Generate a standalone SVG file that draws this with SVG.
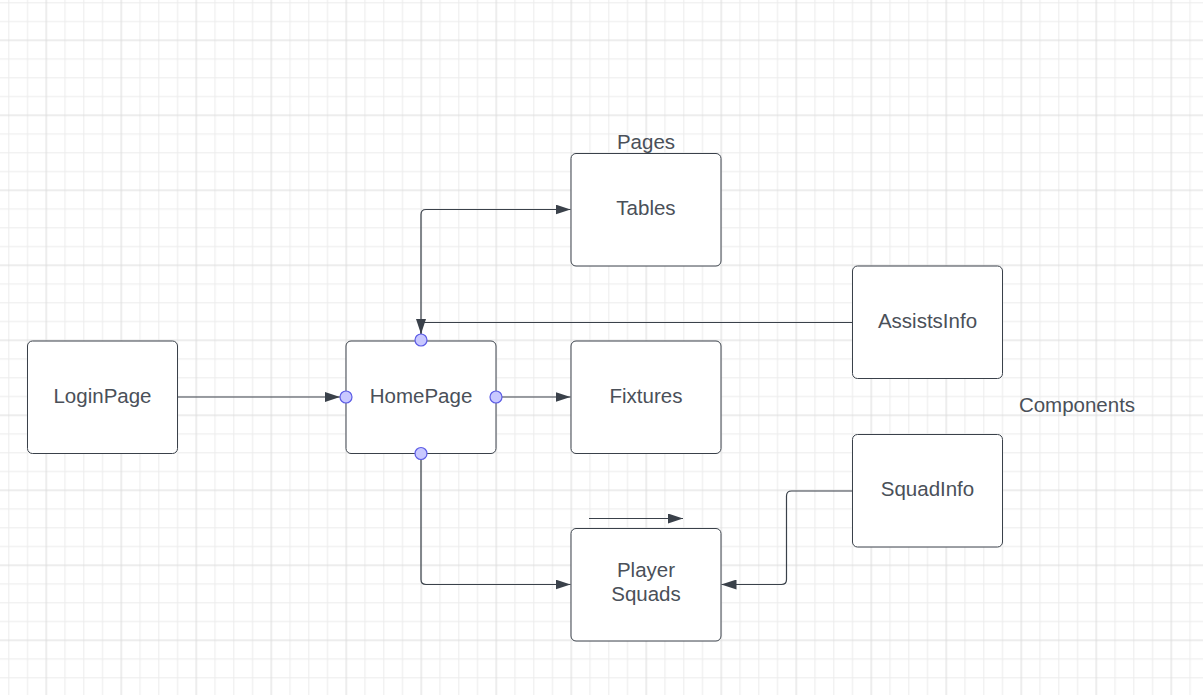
<svg xmlns="http://www.w3.org/2000/svg" width="1203" height="695" viewBox="0 0 1203 695">
<style>
.box{fill:#ffffff;stroke:#3a414a;stroke-width:1;}
.lbl{font-family:"Liberation Sans",Arial,sans-serif;font-size:20.5px;fill:#4a5059;text-anchor:middle;}
.con{fill:none;stroke:#3a414a;stroke-width:1.2;}
.dot{fill:#c8c8ff;stroke:#5c5ce6;stroke-width:1.2;}
</style>
<defs>
<pattern id="grid" patternUnits="userSpaceOnUse" x="46.3" y="40.3" width="75" height="75">
<rect x="0" y="0" width="75" height="75" fill="#ffffff"/>
<rect x="18.25" y="0" width="1" height="75" fill="#ececec"/>
<rect x="37" y="0" width="1" height="75" fill="#ececec"/>
<rect x="55.75" y="0" width="1" height="75" fill="#ececec"/>
<rect x="0" y="18.25" width="75" height="1" fill="#ececec"/>
<rect x="0" y="37" width="75" height="1" fill="#ececec"/>
<rect x="0" y="55.75" width="75" height="1" fill="#ececec"/>
<rect x="-0.5" y="0" width="1" height="75" fill="#dcdcdc"/>
<rect x="74.5" y="0" width="1" height="75" fill="#dcdcdc"/>
<rect x="0" y="-0.5" width="75" height="1" fill="#dcdcdc"/>
<rect x="0" y="74.5" width="75" height="1" fill="#dcdcdc"/>
</pattern>
<marker id="arr" viewBox="0 0 15 10" refX="15" refY="5" markerWidth="15" markerHeight="10" markerUnits="userSpaceOnUse" orient="auto">
<path d="M0,0 L15,5 L0,10 Z" fill="#3a414a"/>
</marker>
</defs>
<rect x="0" y="0" width="1203" height="695" fill="url(#grid)"/>

<g id="labels">
<text class="lbl" x="646" y="149">Pages</text>
<text class="lbl" x="1077" y="412">Components</text>
</g>

<g id="connectors">
<path class="con" d="M177.5,397 H340" marker-end="url(#arr)"/>
<path class="con" d="M502,397 H570.5" marker-end="url(#arr)"/>
<path class="con" d="M421,334 V214.5 Q421,209.5 426,209.5 H570.5" marker-end="url(#arr)"/>
<path class="con" d="M852,322.5 H421 V334" marker-end="url(#arr)"/>
<path class="con" d="M421,459 V579.5 Q421,584.5 426,584.5 H570.5" marker-end="url(#arr)"/>
<path class="con" d="M852,491 H791.5 Q786.5,491 786.5,496 V579.5 Q786.5,584.5 781.5,584.5 H721.5" marker-end="url(#arr)"/>
<path class="con" d="M589,518.5 H683" marker-end="url(#arr)"/>
</g>

<g id="LoginPage">
<rect class="box" x="27.5" y="341" width="150" height="112.5" rx="5"/>
<text class="lbl" x="102.5" y="402.5">LoginPage</text>
</g>

<g id="HomePage">
<rect class="box" x="346" y="341" width="150" height="112.5" rx="5"/>
<text class="lbl" x="421" y="402.5">HomePage</text>
<circle class="dot" cx="421" cy="340" r="6"/>
<circle class="dot" cx="346" cy="397" r="6"/>
<circle class="dot" cx="496" cy="397" r="6"/>
<circle class="dot" cx="421" cy="453.5" r="6"/>
</g>

<g id="Tables">
<rect class="box" x="571" y="153.5" width="150" height="112.5" rx="5"/>
<text class="lbl" x="646" y="215">Tables</text>
</g>

<g id="Fixtures">
<rect class="box" x="571" y="341" width="150" height="112.5" rx="5"/>
<text class="lbl" x="646" y="402.5">Fixtures</text>
</g>

<g id="PlayerSquads">
<rect class="box" x="571" y="528.5" width="150" height="112.5" rx="5"/>
<text class="lbl" x="646" y="576.5">Player</text>
<text class="lbl" x="646" y="600.5">Squads</text>
</g>

<g id="AssistsInfo">
<rect class="box" x="852.5" y="266" width="150" height="112.5" rx="5"/>
<text class="lbl" x="927.5" y="327.5">AssistsInfo</text>
</g>

<g id="SquadInfo">
<rect class="box" x="852.5" y="434.5" width="150" height="112.5" rx="5"/>
<text class="lbl" x="927.5" y="496">SquadInfo</text>
</g>
</svg>
